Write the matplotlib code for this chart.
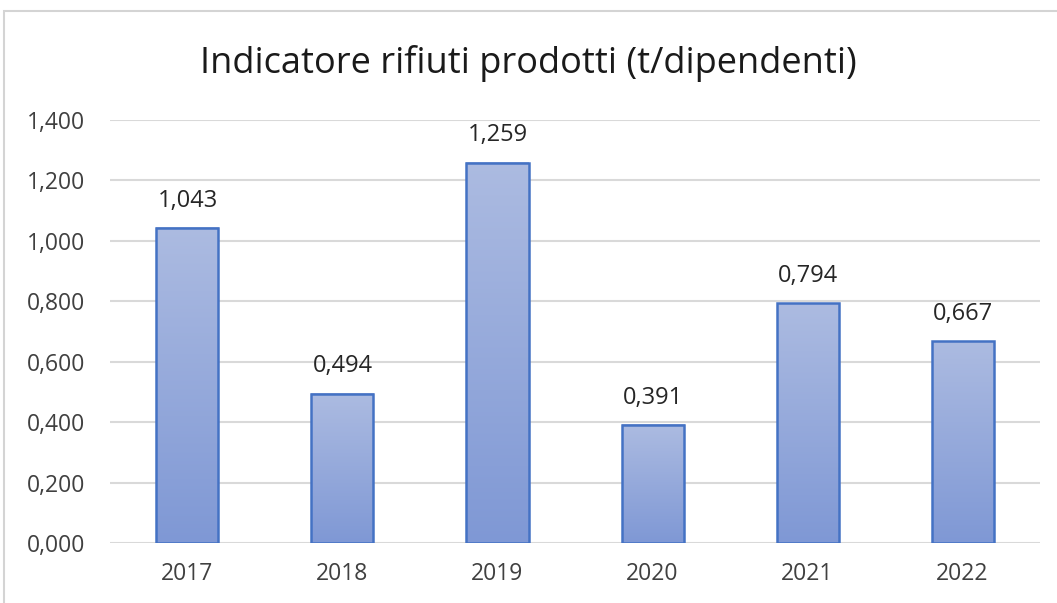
import numpy as np
import matplotlib.pyplot as plt
from matplotlib.patches import Rectangle
from matplotlib.colors import LinearSegmentedColormap

years = ['2017', '2018', '2019', '2020', '2021', '2022']
values = [1.043, 0.494, 1.259, 0.391, 0.794, 0.667]
yticks = [0.0, 0.2, 0.4, 0.6, 0.8, 1.0, 1.2, 1.4]

plt.rcParams['font.family'] = ['Open Sans', 'DejaVu Sans']

fig = plt.figure(figsize=(10.57, 6.03), dpi=100)
ax = fig.add_axes([0.104, 0.0995, 0.88, 0.7015])

# cornice del grafico (tagliata a destra e in basso)
fig.patches.append(Rectangle((0.004, -0.1), 1.2, 1.082, transform=fig.transFigure,
                             fill=False, edgecolor='#d4d4d4', lw=1.5))

x = np.arange(len(years))
w = 0.4
grad = np.linspace(0, 1, 256).reshape(-1, 1)
cmap = LinearSegmentedColormap.from_list('g', ['#7f98d5', '#acbbe1'])

for xi, v in zip(x, values):
    ax.imshow(grad, cmap=cmap, aspect='auto', origin='lower',
              extent=(xi - w / 2, xi + w / 2, 0, v), zorder=2)
    ax.add_patch(Rectangle((xi - w / 2, 0), w, v, fill=False,
                           edgecolor='#4472c4', lw=1.8, zorder=3))
    ax.annotate(f'{v:.3f}'.replace('.', ','), (xi, v), xytext=(0, 11),
                textcoords='offset points', ha='center', va='bottom',
                fontsize=17, color='#262626')

ax.set_xlim(-0.5, len(years) - 0.5)
ax.set_ylim(0, 1.4)
ax.set_xticks(x)
ax.set_xticklabels(years, fontsize=16.5, color='#404040')
ax.set_yticks(yticks)
ax.set_yticklabels([f'{t:.3f}'.replace('.', ',') for t in yticks], fontsize=16.5, color='#404040')
ax.tick_params(length=0, pad=14)
ax.tick_params(axis='y', pad=18)
ax.grid(axis='y', color='#d9d9d9', lw=1.5, zorder=0)
ax.set_axisbelow(True)
for s in ax.spines.values():
    s.set_visible(False)

fig.suptitle('Indicatore rifiuti prodotti (t/dipendenti)', y=0.925, fontsize=26, color='#1a1a1a')

fig.savefig('out.png', dpi=100)
